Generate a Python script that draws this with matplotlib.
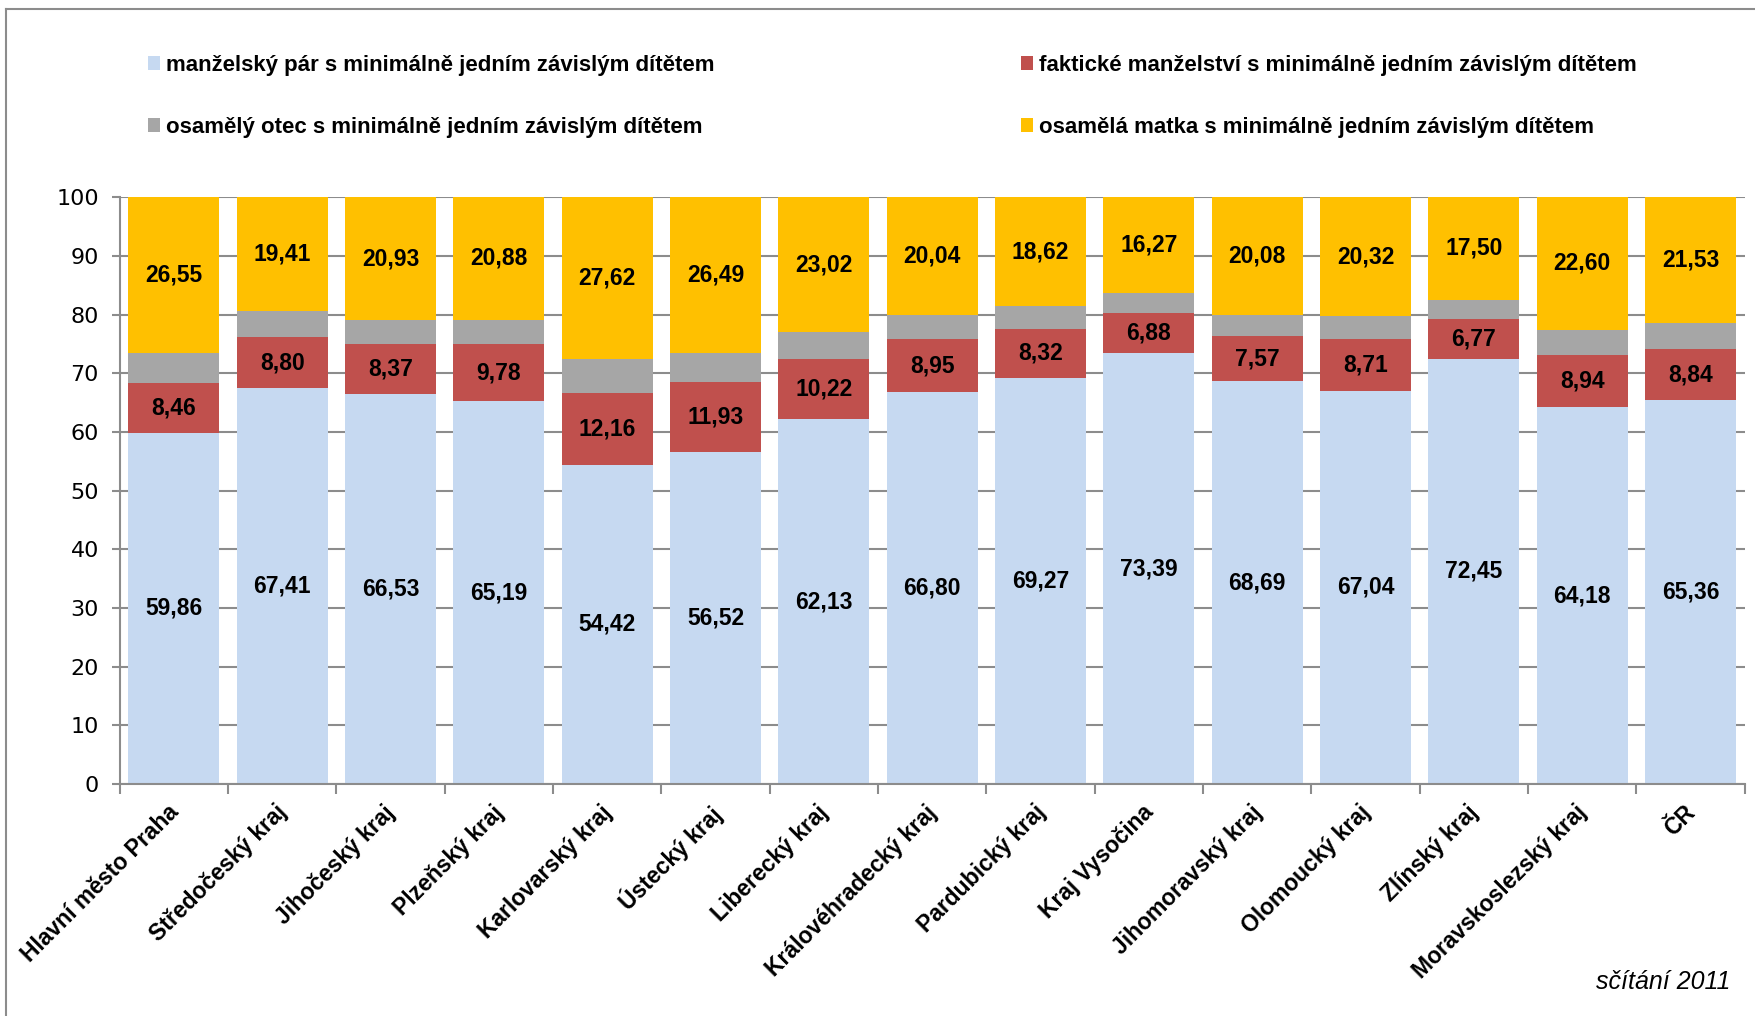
import numpy as np
import matplotlib
matplotlib.use("Agg")
import matplotlib.pyplot as plt
import matplotlib.transforms as mtransforms
from matplotlib.patches import Patch
from matplotlib.lines import Line2D

# ---------------------------------------------------------------------------
# Data (sčítání 2011, % of families with at least one dependent child)
# ---------------------------------------------------------------------------
regions = [
    "Hlavní město Praha", "Středočeský kraj", "Jihočeský kraj", "Plzeňský kraj",
    "Karlovarský kraj", "Ústecký kraj", "Liberecký kraj", "Královéhradecký kraj",
    "Pardubický kraj", "Kraj Vysočina", "Jihomoravský kraj", "Olomoucký kraj",
    "Zlínský kraj", "Moravskoslezský kraj", "ČR",
]
married = [59.86, 67.41, 66.53, 65.19, 54.42, 56.52, 62.13, 66.80,
           69.27, 73.39, 68.69, 67.04, 72.45, 64.18, 65.36]
cohabit = [8.46, 8.80, 8.37, 9.78, 12.16, 11.93, 10.22, 8.95,
           8.32, 6.88, 7.57, 8.71, 6.77, 8.94, 8.84]
father = [5.13, 4.38, 4.17, 4.15, 5.80, 5.06, 4.63, 4.21,
          3.79, 3.46, 3.66, 3.93, 3.28, 4.28, 4.27]
mother = [26.55, 19.41, 20.93, 20.88, 27.62, 26.49, 23.02, 20.04,
          18.62, 16.27, 20.08, 20.32, 17.50, 22.60, 21.53]

labels = [
    "manželský pár s minimálně jedním závislým dítětem",
    "faktické manželství s minimálně jedním závislým dítětem",
    "osamělý otec s minimálně jedním závislým dítětem",
    "osamělá matka s minimálně jedním závislým dítětem",
]
colors = ["#C6D9F1", "#C0504D", "#A6A6A6", "#FFC000"]
show_values = [True, True, False, True]


def fmt(v):
    return f"{v:.2f}".replace(".", ",")


plt.rcParams["font.family"] = ["Liberation Sans", "DejaVu Sans"]

fig = plt.figure(figsize=(17.56, 10.16), dpi=100)
ax = fig.add_axes([0.0682, 0.2282, 0.9254, 0.5778])

x = np.arange(len(regions))
bottom = np.zeros(len(regions))
series = [married, cohabit, father, mother]
for vals, col, show in zip(series, colors, show_values):
    vals = np.array(vals)
    ax.bar(x, vals, bottom=bottom, width=0.84, color=col, zorder=2)
    if show:
        for xi, b, v in zip(x, bottom, vals):
            ax.text(xi, b + v / 2, fmt(v), ha="center", va="center",
                    fontsize=16.5, fontweight="bold", color="black", zorder=3)
    bottom += vals

ax.set_xlim(-0.5, len(regions) - 0.5)
ax.set_ylim(0, 100)
ax.set_yticks(range(0, 101, 10))
ax.yaxis.grid(True, color="#8C8C8C", linewidth=1.5, zorder=0)
ax.set_axisbelow(True)

for side in ["top", "right"]:
    ax.spines[side].set_visible(False)
for side in ["left", "bottom"]:
    ax.spines[side].set_color("#8C8C8C")
    ax.spines[side].set_linewidth(1.5)

ax.tick_params(axis="y", direction="out", length=6, width=1.5, color="#8C8C8C",
               labelsize=16, pad=9)
for lab in ax.get_yticklabels():
    lab.set_family(["Liberation Sans Narrow", "DejaVu Sans"])

# category ticks sit between the bars, labels under the bar centres
ax.set_xticks(np.arange(-0.5, len(regions), 1.0))
ax.set_xticklabels([])
ax.tick_params(axis="x", direction="out", length=7, width=1.5, color="#8C8C8C")
ax.set_xticks(x, minor=True)
ax.set_xticklabels(regions, minor=True, rotation=45, ha="right",
                   rotation_mode="anchor", fontsize=16.5, fontweight="bold")
ax.tick_params(axis="x", which="minor", length=0, pad=12)
shift = mtransforms.ScaledTranslation(-0.07, 0, fig.dpi_scale_trans)
for lab in ax.xaxis.get_minorticklabels():
    lab.set_transform(lab.get_transform() + shift)

handles = [Patch(facecolor=c, edgecolor="none") for c in colors]
order = [0, 2, 1, 3]
fig.legend([handles[i] for i in order], [labels[i] for i in order],
           loc="upper left", bbox_to_anchor=(0.078, 0.957), ncol=2,
           frameon=False, prop={"weight": "bold", "size": 16},
           handlelength=0.55, handleheight=0.55, handletextpad=0.25,
           columnspacing=13.8, labelspacing=1.85, borderpad=0)

fig.text(0.9853, 0.033, "sčítání 2011", ha="right", va="center",
         fontsize=18, style="italic")

# outer chart border (left and top edges are visible)
fig.add_artist(Line2D([0.0032, 0.0032], [0.0, 0.991], color="#8C8C8C",
                      linewidth=1.5, transform=fig.transFigure))
fig.add_artist(Line2D([0.0032, 1.0], [0.991, 0.991], color="#8C8C8C",
                      linewidth=1.5, transform=fig.transFigure))

fig.savefig("out.png", dpi=100)
